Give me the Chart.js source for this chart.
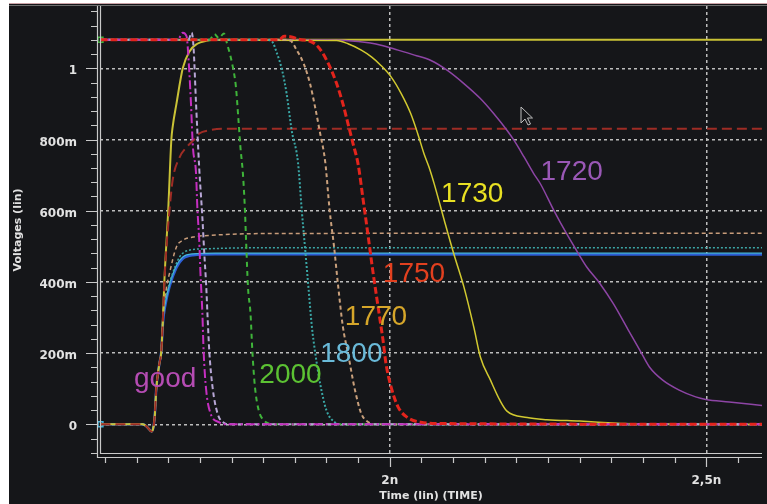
<!DOCTYPE html>
<html>
<head>
<meta charset="utf-8">
<script src="https://cdn.jsdelivr.net/npm/chart.js@4/dist/chart.umd.min.js"></script>
<style>
  html, body { margin: 0; padding: 0; background: #ffffff; overflow: hidden; }
  canvas { display: block; }
</style>
</head>
<body>
<canvas id="wave" width="767" height="504"></canvas>
<script>
// ---- waveforms: time in ns, voltage in V ----
// outputs that start high and fall, one per sweep value
const goodT = [1.543, 1.665, 1.673, 1.679, 1.683, 1.686, 1.689, 1.694, 1.696, 1.699, 1.701, 1.704, 1.706, 1.710, 1.717, 1.730, 1.741, 2.588];
const goodV = [1.08, 1.08, 1.10, 1.09, 1.00, 0.90, 0.78, 0.704, 0.61, 0.517, 0.423, 0.311, 0.203, 0.096, 0.03, 0.006, 0, 0];

const goodBT = [1.543, 1.682, 1.687, 1.690, 1.694, 1.699, 1.704, 1.707, 1.710, 1.712, 1.715, 1.720, 1.728, 1.738, 1.746, 2.588];
const goodBV = [1.08, 1.08, 1.10, 1.06, 0.90, 0.72, 0.58, 0.48, 0.39, 0.31, 0.203, 0.105, 0.03, 0.004, 0, 0];

const w2000T = [1.543, 1.715, 1.723, 1.730, 1.738, 1.743, 1.751, 1.757, 1.761, 1.764, 1.768, 1.771, 1.773, 1.776, 1.780, 1.783, 1.787, 1.793, 1.801, 1.809, 1.815, 2.588];
const w2000V = [1.08, 1.08, 1.096, 1.085, 1.098, 1.069, 1.013, 0.947, 0.854, 0.78, 0.704, 0.61, 0.517, 0.386, 0.311, 0.203, 0.105, 0.039, 0.011, 0.002, 0, 0];

const w1800T = [1.543, 1.805, 1.814, 1.822, 1.830, 1.837, 1.845, 1.855, 1.861, 1.866, 1.871, 1.877, 1.882, 1.890, 1.900, 1.913, 1.925, 2.588];
const w1800V = [1.08, 1.08, 1.075, 1.041, 0.994, 0.929, 0.826, 0.735, 0.60, 0.498, 0.395, 0.273, 0.203, 0.114, 0.039, 0.006, 0, 0];

const w1770T = [1.543, 1.835, 1.843, 1.853, 1.864, 1.874, 1.882, 1.890, 1.898, 1.905, 1.912, 1.918, 1.926, 1.934, 1.945, 1.955, 1.966, 1.978, 2.588];
const w1770V = [1.08, 1.08, 1.078, 1.051, 1.013, 0.957, 0.891, 0.817, 0.737, 0.601, 0.498, 0.395, 0.273, 0.199, 0.096, 0.03, 0.006, 0, 0];

const w1750T = [1.543, 1.825, 1.833, 1.845, 1.860, 1.871, 1.887, 1.903, 1.916, 1.926, 1.934, 1.942, 1.950, 1.958, 1.966, 1.973, 1.984, 1.989, 1.994, 2.002, 2.013, 2.028, 2.049, 2.091, 2.588];
const w1750V = [1.08, 1.08, 1.09, 1.088, 1.08, 1.078, 1.06, 1.013, 0.957, 0.90, 0.844, 0.788, 0.73, 0.629, 0.526, 0.433, 0.30, 0.24, 0.17, 0.105, 0.049, 0.019, 0.006, 0.002, 0];

const w1730T = [1.543, 1.916, 1.934, 1.955, 1.971, 1.986, 2.002, 2.018, 2.033, 2.044, 2.054, 2.062, 2.070, 2.086, 2.101, 2.117, 2.133, 2.143, 2.159, 2.174, 2.185, 2.217, 2.248, 2.300, 2.360, 2.400, 2.588];
const w1730V = [1.08, 1.078, 1.069, 1.051, 1.032, 1.008, 0.976, 0.929, 0.873, 0.817, 0.76, 0.722, 0.676, 0.573, 0.479, 0.386, 0.27, 0.189, 0.124, 0.067, 0.037, 0.019, 0.013, 0.009, 0.003, 0, 0];

const w1720T = [1.543, 1.900, 1.950, 1.986, 2.013, 2.039, 2.065, 2.091, 2.117, 2.143, 2.164, 2.185, 2.196, 2.212, 2.227, 2.238, 2.259, 2.279, 2.298, 2.311, 2.332, 2.353, 2.376, 2.395, 2.410, 2.431, 2.457, 2.483, 2.499, 2.536, 2.588];
const w1720V = [1.08, 1.08, 1.075, 1.065, 1.051, 1.037, 1.022, 0.994, 0.957, 0.915, 0.873, 0.826, 0.798, 0.751, 0.705, 0.675, 0.601, 0.536, 0.479, 0.442, 0.395, 0.339, 0.267, 0.208, 0.161, 0.124, 0.096, 0.077, 0.070, 0.063, 0.053];

// internal nodes that start low and rise to their settled levels
const riseYelT = [1.543, 1.610, 1.617, 1.624, 1.627, 1.629, 1.631, 1.636, 1.639, 1.642, 1.644, 1.650, 1.655, 1.657, 1.663, 1.673, 1.683, 1.696, 1.710, 1.725, 2.588];
const riseYelV = [0, 0, -0.008, -0.02, -0.005, 0.03, 0.096, 0.17, 0.203, 0.31, 0.404, 0.60, 0.80, 0.835, 0.90, 1.0, 1.046, 1.069, 1.077, 1.08, 1.08];

const riseRedT = [1.543, 1.610, 1.617, 1.624, 1.627, 1.629, 1.631, 1.636, 1.639, 1.642, 1.644, 1.647, 1.652, 1.657, 1.668, 1.680, 1.691, 1.699, 1.715, 1.738, 2.588];
const riseRedV = [0, 0, -0.008, -0.02, -0.005, 0.03, 0.096, 0.17, 0.203, 0.31, 0.40, 0.49, 0.60, 0.685, 0.75, 0.78, 0.80, 0.817, 0.826, 0.83, 0.83];

const riseTanT = [1.543, 1.610, 1.617, 1.624, 1.627, 1.629, 1.631, 1.636, 1.639, 1.642, 1.648, 1.652, 1.663, 1.673, 1.689, 1.719, 1.809, 2.588];
const riseTanV = [0, 0, -0.008, -0.02, -0.005, 0.03, 0.096, 0.17, 0.203, 0.31, 0.39, 0.424, 0.498, 0.517, 0.526, 0.531, 0.536, 0.537];

const riseTealT = [1.543, 1.610, 1.617, 1.624, 1.627, 1.629, 1.631, 1.636, 1.639, 1.642, 1.648, 1.655, 1.668, 1.683, 1.710, 1.793, 2.588];
const riseTealV = [0, 0, -0.008, -0.02, -0.005, 0.03, 0.096, 0.17, 0.203, 0.31, 0.37, 0.414, 0.47, 0.489, 0.493, 0.496, 0.496];

const riseCyanT = [1.543, 1.610, 1.617, 1.624, 1.627, 1.629, 1.631, 1.636, 1.639, 1.642, 1.646, 1.652, 1.663, 1.673, 1.689, 1.725, 2.588];
const riseCyanV = [0, 0, -0.008, -0.02, -0.005, 0.03, 0.096, 0.17, 0.203, 0.30, 0.345, 0.392, 0.446, 0.47, 0.479, 0.481, 0.481];

const riseBlueT = [1.543, 1.610, 1.617, 1.624, 1.627, 1.629, 1.631, 1.636, 1.639, 1.642, 1.645, 1.652, 1.663, 1.673, 1.689, 1.725, 2.588];
const riseBlueV = [0, 0, -0.008, -0.02, -0.005, 0.03, 0.096, 0.17, 0.203, 0.29, 0.33, 0.386, 0.44, 0.465, 0.475, 0.4775, 0.477];

// ---- axis ticks ----
const voltMajor = [0, 0.2, 0.4, 0.6, 0.8, 1];
const voltLabels = ['0', '200m', '400m', '600m', '800m', '1'];
const timeMajor = [2, 2.5];
const timeLabels = ['2n', '2,5n'];

// ---- curve annotations (text, anchor in data units) ----
const noteText = ['good', '2000', '1800', '1770', '1750', '1730', '1720'];
const noteT = [1.596, 1.794, 1.890, 1.929, 1.989, 2.081, 2.238];
const noteV = [0.105, 0.115, 0.176, 0.279, 0.401, 0.625, 0.686];
const noteColor = ['#b54cb3', '#5cc233', '#6abad9', '#d6a62a', '#e2401f', '#e9e123', '#9a58b6'];

// minor tick positions (major ticks are a subset)
const voltTicks = [];
for (let k = -2; k <= 29; k++) voltTicks.push(Math.round(k * 40) / 1000);
const timeTicks = [];
for (let k = 31; k <= 51; k++) timeTicks.push(Math.round(k * 50) / 1000);

const near = (a, b) => Math.abs(a - b) < 1e-6;
const majorIndex = (list, v) => list.findIndex(m => near(m, v));

const pts = (ts, vs) => ts.map((t, i) => ({ x: t, y: vs[i] }));

function trace(label, ts, vs, color, width, dash, marker) {
  return {
    label,
    data: pts(ts, vs),
    borderColor: color,
    backgroundColor: 'rgba(0,0,0,0)',
    borderWidth: width,
    borderDash: dash || [],
    showLine: true,
    cubicInterpolationMode: 'monotone',
    pointStyle: 'rect',
    pointRadius: ctx => (marker && ctx.dataIndex === 0) ? 3.5 : 0,
    pointBorderColor: color,
    pointBorderWidth: 1.5,
    pointBackgroundColor: 'rgba(0,0,0,0)',
    pointHoverRadius: 0,
    clip: { left: 6, top: 0, right: 0, bottom: 0 }
  };
}

const BG = '#151619';
const AXIS = '#c9c9c9';

// window background and top border
const backdrop = {
  id: 'backdrop',
  beforeDraw(chart) {
    const c = chart.ctx;
    c.save();
    c.fillStyle = '#ffffff';
    c.fillRect(0, 0, chart.width, chart.height);
    c.fillStyle = BG;
    c.fillRect(9, 3, chart.width - 9, chart.height - 3);
    c.strokeStyle = '#caa2a6';
    c.lineWidth = 1;
    c.beginPath(); c.moveTo(9, 3.5); c.lineTo(chart.width, 3.5); c.stroke();
    c.strokeStyle = '#6e6e6e';
    c.beginPath(); c.moveTo(9, 5.5); c.lineTo(chart.width, 5.5); c.stroke();
    c.restore();
  }
};

// double axis lines and tick marks, placed with the chart's own scales
const axisFrame = {
  id: 'axisFrame',
  afterDraw(chart) {
    const c = chart.ctx;
    const xs = chart.scales.x, ys = chart.scales.y;
    const a = chart.chartArea;
    c.save();
    c.strokeStyle = AXIS;
    c.lineWidth = 1.2;
    c.beginPath();
    c.moveTo(a.left - 2.5, a.top); c.lineTo(a.left - 2.5, a.bottom + 4);
    c.moveTo(a.left + 0.5, a.top); c.lineTo(a.left + 0.5, a.bottom);
    c.moveTo(a.left - 2.5, a.bottom + 3.5); c.lineTo(a.right, a.bottom + 3.5);
    c.moveTo(a.left + 0.5, a.bottom - 0.5); c.lineTo(a.right, a.bottom - 0.5);
    c.stroke();
    c.beginPath();
    ys.ticks.forEach(t => {
      const py = Math.round(ys.getPixelForValue(t.value)) + 0.5;
      const major = majorIndex(voltMajor, t.value) >= 0;
      c.moveTo(major ? a.left - 14 : a.left - 9, py);
      c.lineTo(a.left - 3, py);
    });
    xs.ticks.forEach(t => {
      const px = Math.round(xs.getPixelForValue(t.value)) + 0.5;
      const major = majorIndex(timeMajor, t.value) >= 0;
      c.moveTo(px, a.bottom + 4);
      c.lineTo(px, major ? a.bottom + 13 : a.bottom + 9);
    });
    c.stroke();
    c.restore();
  }
};

// sweep-value annotations next to each curve, plus the pointer glyph
const notes = {
  id: 'notes',
  afterDraw(chart) {
    const c = chart.ctx;
    const xs = chart.scales.x, ys = chart.scales.y;
    c.save();
    c.font = '28px "Liberation Sans", Arial, sans-serif';
    c.textAlign = 'left';
    c.textBaseline = 'alphabetic';
    noteText.forEach((txt, i) => {
      c.fillStyle = noteColor[i];
      c.fillText(txt, xs.getPixelForValue(noteT[i]), ys.getPixelForValue(noteV[i]));
    });
    // mouse pointer
    const px = 521, py = 107;
    c.beginPath();
    c.moveTo(px, py);
    c.lineTo(px, py + 16);
    c.lineTo(px + 4, py + 12);
    c.lineTo(px + 7, py + 18);
    c.lineTo(px + 9.5, py + 17);
    c.lineTo(px + 6.5, py + 11);
    c.lineTo(px + 11.5, py + 11);
    c.closePath();
    c.fillStyle = BG;
    c.fill();
    c.strokeStyle = '#bdbdbd';
    c.lineWidth = 1;
    c.stroke();
    c.restore();
  }
};

const tickFont = { family: '"DejaVu Sans", sans-serif', size: 12, weight: 'bold' };
const titleFont = { family: '"DejaVu Sans", sans-serif', size: 11, weight: 'bold' };
const gridColor = list => ctx => (ctx.tick && majorIndex(list, ctx.tick.value) >= 0) ? '#bdbdbd' : 'rgba(0,0,0,0)';

new Chart(document.getElementById('wave'), {
  type: 'scatter',
  data: {
    datasets: [
      trace('1750', w1750T, w1750V, '#e3241c', 3, [7, 3]),
      trace('good', goodT, goodV, '#c52fc0', 2, [9, 3, 2, 3]),
      trace('good b', goodBT, goodBV, '#b8a7d6', 2, [5, 3]),
      trace('2000', w2000T, w2000V, '#3fb43a', 2, [5, 4], true),
      trace('1800', w1800T, w1800V, '#3aa7a6', 2, [2, 2]),
      trace('1770', w1770T, w1770V, '#c9a07c', 2, [4, 3]),
      trace('1730', w1730T, w1730V, '#d2ca30', 1.5),
      trace('1720', w1720T, w1720V, '#8d45a5', 1.5),
      trace('node red', riseRedT, riseRedV, '#9e2c25', 2, [10, 5]),
      trace('node yellow', riseYelT, riseYelV, '#c9c236', 2),
      trace('node tan', riseTanT, riseTanV, '#c89c7a', 1.5, [4, 3]),
      trace('node teal', riseTealT, riseTealV, '#3ca5a5', 1.5, [2, 2]),
      trace('node cyan', riseCyanT, riseCyanV, '#45b5dc', 1.2, null, true),
      trace('node blue', riseBlueT, riseBlueV, '#2d5ed6', 2.5)
    ]
  },
  options: {
    responsive: false,
    animation: false,
    events: [],
    layout: { padding: { left: 9, top: 6, right: 0, bottom: 0 } },
    plugins: { legend: { display: false }, tooltip: { enabled: false } },
    scales: {
      x: {
        type: 'linear',
        min: 1.5423,
        max: 2.5878,
        afterBuildTicks: s => { s.ticks = timeTicks.map(v => ({ value: v })); },
        afterFit: s => { s.height = 50; s.paddingLeft = 0; s.paddingRight = 0; },
        ticks: {
          autoSkip: false,
          maxRotation: 0,
          padding: 20,
          color: '#e2e2e2',
          font: tickFont,
          callback: v => { const i = majorIndex(timeMajor, v); return i >= 0 ? timeLabels[i] : ''; }
        },
        grid: { color: gridColor(timeMajor), lineWidth: 1.5, drawTicks: false },
        border: { display: false, dash: [3, 3] },
        title: {
          display: true,
          text: 'Time (lin) (TIME)',
          color: '#e2e2e2',
          font: titleFont,
          padding: { top: 0, bottom: 1 }
        }
      },
      y: {
        type: 'linear',
        min: -0.0834,
        max: 1.175,
        afterBuildTicks: s => { s.ticks = voltTicks.map(v => ({ value: v })); },
        afterFit: s => { s.width = 91; s.paddingTop = 0; s.paddingBottom = 0; },
        ticks: {
          autoSkip: false,
          padding: 23,
          labelOffset: 3,
          color: '#e2e2e2',
          font: tickFont,
          callback: v => { const i = majorIndex(voltMajor, v); return i >= 0 ? voltLabels[i] : ''; }
        },
        grid: { color: gridColor(voltMajor), lineWidth: 1.5, drawTicks: false },
        border: { display: false, dash: [3, 3] },
        title: {
          display: true,
          text: 'Voltages (lin)',
          color: '#e2e2e2',
          font: titleFont,
          padding: { top: 3, bottom: 0 }
        }
      }
    }
  },
  plugins: [backdrop, axisFrame, notes]
});
</script>
</body>
</html>
